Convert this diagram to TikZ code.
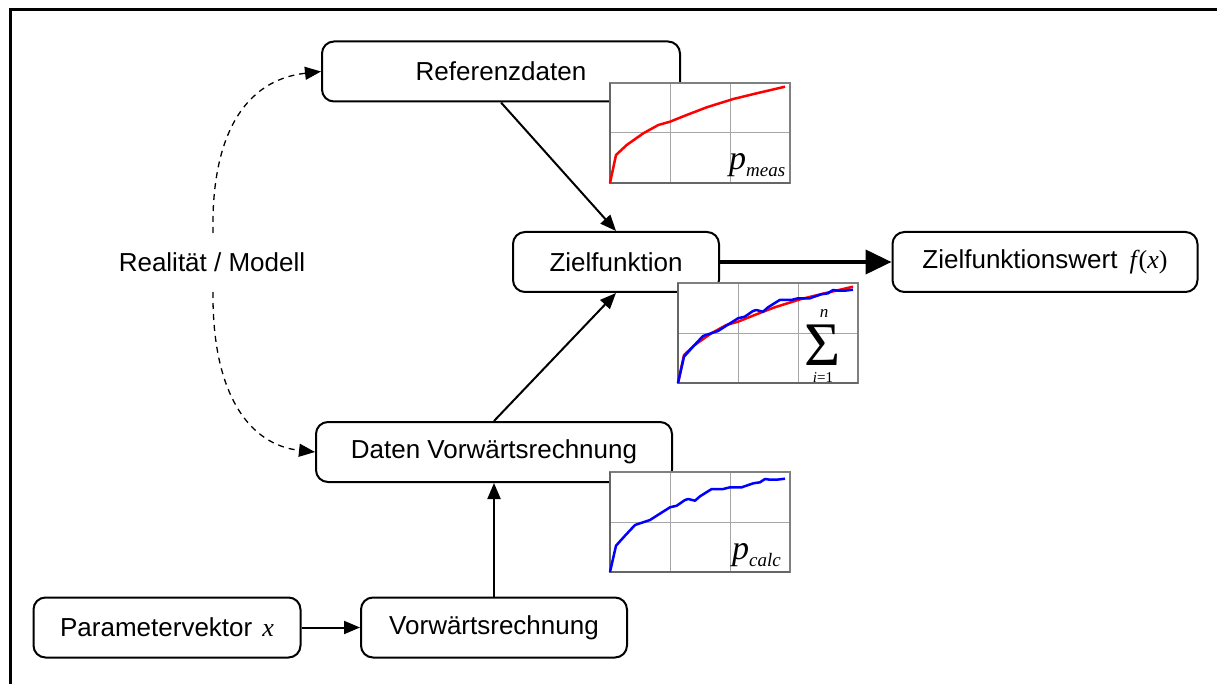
\documentclass[tikz,border=0pt]{standalone}
\usepackage{fontspec}
\setmainfont{Liberation Sans}
\newfontfamily\tms{Liberation Serif}
\usetikzlibrary{arrows.meta}
\tikzset{
  x=1pt, y=-1pt,
  box/.style={draw, line width=2pt, rounded corners=12pt, fill=white, minimum height=60pt, inner sep=0pt,
    font=\fontsize{26}{28}\selectfont},
  conn/.style={line width=2pt, -{Triangle[length=16pt,width=13pt]}},
  thickconn/.style={line width=4pt, -{Triangle[length=26pt,width=24pt]}},
  dconn/.style={line width=1.3pt, dash pattern=on 6pt off 5pt, -{Triangle[length=16pt,width=13pt]}},
  gridline/.style={draw=gray!70, line width=1pt},
  redc/.style={draw=red, line width=2.5pt, line join=round},
  bluec/.style={draw=blue, line width=2.5pt, line join=round},
}
\newcommand\mychart[1]{%
  \begin{scope}[shift={#1}]
    \fill[white] (0,0) rectangle (180,100);
    \draw[gridline] (60,0) -- (60,100) (120,0) -- (120,100) (0,50) -- (180,50);
    \draw[gray, line width=1.2pt] (0,0) rectangle (180,100);
    \draw[black!60, line width=1.5pt] (0,0) -- (0,100) -- (180,100);
  \end{scope}}
\newcommand\redcurve[1]{%
  \draw[redc, shift={#1}] (0,0) -- (6,-28) -- (16.7,-38) -- (33.3,-49.7) -- (48.3,-58) -- (60,-61.3)
    -- (76.7,-68) -- (96.7,-75.7) -- (123.3,-84) -- (146.7,-89.7) -- (175,-96.3);}
\newcommand\bluecurve[1]{%
  \draw[bluec, shift={#1}] (0,0) -- (6,-26.3) -- (15,-36.3) -- (25,-47) -- (40,-52) -- (48.3,-57.3)
    -- (60,-64.7) -- (66.7,-66.3) -- (75,-72) -- (78.3,-73) -- (85,-71.3) -- (90,-75.7) -- (101.7,-83)
    -- (113.3,-83) -- (120,-84.7) -- (131.7,-84.7) -- (143.3,-88.7) -- (150,-89.7) -- (155,-93)
    -- (160,-92.3) -- (166.7,-92.3) -- (175,-93.3);}
\begin{document}
\begin{tikzpicture}
\useasboundingbox (0,0) rectangle (1217,684);
\fill[white] (0,0) rectangle (1217,684);
\draw[line width=3pt] (1217,10) -- (10,10) -- (10,684);

\node[box, minimum width=358pt] (ref) at (501,71.5) {Referenzdaten};
\node[box, minimum width=206pt] (zf) at (616,262) {Zielfunktion};
\node[box, minimum width=305pt] (zfw) at (1045,262) {Zielfunktionswert\hspace{12pt}{\tms\itshape f\kern2pt}{\tms(}{\tms\itshape x}{\tms)}};
\node[box, minimum width=356pt] (dv) at (494,452) {Daten Vorwärtsrechnung};
\node[box, minimum width=267pt] (par) at (167,627.5) {Parametervektor\hspace{10pt}{\tms\itshape x}};
\node[box, minimum width=266pt] (vr) at (494,627.5) {Vorwärtsrechnung};

\node[font=\fontsize{26}{28}\selectfont] (rm) at (212,262) {Realität / Modell};
\coordinate (rmt) at (213,233);
\coordinate (rmb) at (213,292);

\draw[conn] (ref.south) -- (zf.north);
\draw[conn] (dv.north) -- (zf.south);
\draw[conn] (vr.north) -- (dv.south);
\draw[conn] (par.east) -- (vr.west);
\draw[thickconn] (zf.east) -- (zfw.west);
\draw[dconn] (rmt) .. controls (211,135) and (245,80) .. (ref.west);
\draw[dconn] (rmb) .. controls (212,395) and (250,445) .. (dv.west);

% charts
\mychart{(610,83)}
\redcurve{(610,183)}
\node[anchor=base west, inner sep=0pt] (pm) at (729,170)
  {{\tms\itshape\fontsize{34}{34}\selectfont p}{\tms\itshape\fontsize{19}{19}\selectfont\raisebox{-7pt}{meas}}};

\mychart{(678,283)}
\redcurve{(678,383)}
\bluecurve{(678,383)}
\node[anchor=base, inner sep=0pt, font=\tms\fontsize{62}{62}\selectfont] (sig) at (823,365) {Σ};
\node[anchor=base, inner sep=0pt, font=\tms\itshape\fontsize{17}{17}\selectfont] (sn) at (824,318) {n};
\node[anchor=base, inner sep=0pt, font=\tms\fontsize{15}{15}\selectfont] (si) at (823,382) {{\itshape i}=1};

\mychart{(610,472)}
\bluecurve{(610,572)}
\node[anchor=base west, inner sep=0pt] (pc) at (732,559)
  {{\tms\itshape\fontsize{34}{34}\selectfont p}{\tms\itshape\fontsize{19}{19}\selectfont\raisebox{-7pt}{calc}}};
\end{tikzpicture}
\end{document}
